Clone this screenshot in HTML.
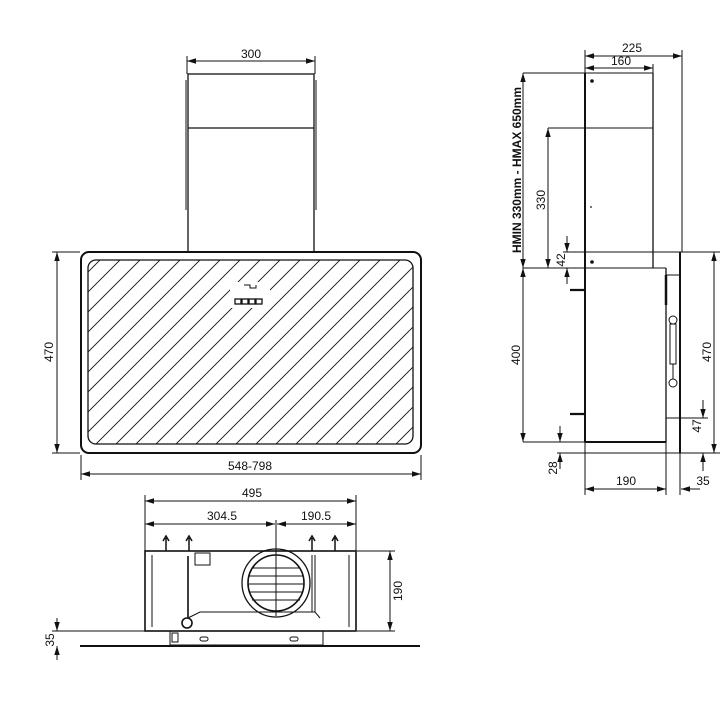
<!DOCTYPE html>
<html><head><meta charset="utf-8"><style>
html,body{margin:0;padding:0;background:#fff;}
svg{display:block;}
text{font-family:"Liberation Sans",sans-serif;font-size:12px;fill:#111;}
</style></head><body>
<svg width="720" height="720" viewBox="0 0 720 720" xmlns="http://www.w3.org/2000/svg">
<defs>
<marker id="a" viewBox="0 0 10 10" refX="10" refY="5" markerWidth="9" markerHeight="9" markerUnits="userSpaceOnUse" orient="auto-start-reverse"><path d="M0,2 L10,5 L0,8 z" fill="#111"/></marker>
<clipPath id="inner"><rect x="88" y="260" width="325" height="184" rx="8"/></clipPath>
</defs>
<g stroke="#111" fill="none" stroke-width="1">
<!-- FRONT VIEW -->
<line x1="187" y1="56" x2="187" y2="74"/><line x1="315" y1="56" x2="315" y2="74"/>
<line x1="187" y1="61" x2="315" y2="61" marker-start="url(#a)" marker-end="url(#a)"/>
<rect x="188" y="74" width="126" height="178" stroke-width="1.3"/>
<line x1="188" y1="128" x2="314" y2="128" stroke-width="1.3"/>
<line x1="186" y1="80" x2="186" y2="210"/><line x1="316" y1="80" x2="316" y2="210"/>
<rect x="81" y="252" width="340" height="201" rx="8" stroke-width="2"/>
<rect x="88" y="260" width="325" height="184" rx="8" stroke-width="1.3"/>
<g clip-path="url(#inner)" stroke-width="0.9">
<path d="M60,460 L280,240 M80,460 L300,240 M100,460 L320,240 M120,460 L340,240 M140,460 L360,240 M160,460 L380,240 M180,460 L400,240 M200,460 L420,240 M220,460 L440,240 M240,460 L460,240 M260,460 L480,240 M280,460 L500,240 M300,460 L520,240 M320,460 L540,240 M340,460 L560,240 M360,460 L580,240 M380,460 L600,240 M400,460 L620,240 M40,460 L260,240 M20,460 L240,240 M0,460 L220,240 M-20,460 L200,240 M-40,460 L180,240 M-60,460 L160,240 M-80,460 L140,240 M-100,460 L120,240 M-120,460 L100,240"/>
</g>
<rect x="230" y="282" width="40" height="26" fill="#fff" stroke="none"/>
<path d="M244,285 h6 v3 h6 v-3" />
<rect x="235" y="299" width="6" height="5" stroke-width="1.3"/><rect x="242" y="299" width="6" height="5" stroke-width="1.3"/><rect x="249" y="299" width="6" height="5" stroke-width="1.3"/><rect x="256" y="299" width="6" height="5" stroke-width="1.3"/>
<line x1="52" y1="252" x2="80" y2="252"/><line x1="52" y1="453" x2="80" y2="453"/>
<line x1="57" y1="252" x2="57" y2="453" marker-start="url(#a)" marker-end="url(#a)"/>
<line x1="81" y1="455" x2="81" y2="480"/><line x1="421" y1="455" x2="421" y2="480"/>
<line x1="81" y1="474" x2="421" y2="474" marker-start="url(#a)" marker-end="url(#a)"/>

<!-- BOTTOM VIEW -->
<line x1="145" y1="495" x2="145" y2="551"/><line x1="356" y1="495" x2="356" y2="551"/>
<line x1="145" y1="501" x2="356" y2="501" marker-start="url(#a)" marker-end="url(#a)"/>
<line x1="145" y1="524" x2="275" y2="524" marker-start="url(#a)" marker-end="url(#a)"/>
<line x1="277" y1="524" x2="356" y2="524" marker-start="url(#a)" marker-end="url(#a)"/>
<line x1="276" y1="520" x2="276" y2="616"/>
<rect x="145" y="551" width="211" height="80" stroke-width="1.6"/>
<line x1="152" y1="555" x2="152" y2="627"/><line x1="349" y1="555" x2="349" y2="627"/>
<line x1="188" y1="556" x2="188" y2="618" stroke-width="1.6"/>
<rect x="195" y="553" width="15" height="12"/>
<path d="M188,618 L200,612 H315 L320,618"/>
<line x1="312" y1="555" x2="312" y2="612"/><line x1="315" y1="555" x2="315" y2="612"/>
<circle cx="276" cy="583" r="34" stroke-width="1.3"/>
<circle cx="276" cy="583" r="28" stroke-width="1.6"/>
<path d="M252,568 H300 M249,576 H303 M248,584 H304 M249,592 H303 M252,600 H300"/>
<circle cx="187" cy="623" r="5" stroke-width="1.6"/>
<path d="M166,551 V538 M163,541 L166,536 L169,541 M189,551 V538 M186,541 L189,536 L192,541 M312,551 V538 M309,541 L312,536 L315,541 M335,551 V538 M332,541 L335,536 L338,541" stroke-width="1.5"/>
<rect x="170" y="631" width="153" height="14"/>
<rect x="172" y="633" width="6" height="9"/>
<rect x="200" y="637" width="8" height="4" rx="2"/><rect x="290" y="637" width="8" height="4" rx="2"/>
<line x1="80" y1="646" x2="420" y2="646" stroke-width="2"/>
<line x1="52" y1="631" x2="170" y2="631"/>
<line x1="57" y1="618" x2="57" y2="631" marker-end="url(#a)"/>
<line x1="57" y1="660" x2="57" y2="646" marker-end="url(#a)"/>
<line x1="357" y1="551" x2="395" y2="551"/><line x1="357" y1="631" x2="395" y2="631"/>
<line x1="390" y1="551" x2="390" y2="631" marker-start="url(#a)" marker-end="url(#a)"/>

<!-- SIDE VIEW -->
<line x1="585" y1="50" x2="585" y2="73"/><line x1="682" y1="50" x2="682" y2="252"/><line x1="653" y1="64" x2="653" y2="73"/>
<line x1="585" y1="56" x2="682" y2="56" marker-start="url(#a)" marker-end="url(#a)"/>
<line x1="585" y1="68" x2="653" y2="68" marker-start="url(#a)" marker-end="url(#a)"/>
<line x1="523" y1="73" x2="653" y2="73"/>
<line x1="585" y1="73" x2="585" y2="442" stroke-width="2"/>
<line x1="653" y1="73" x2="653" y2="268" stroke-width="1.3"/>
<line x1="548" y1="128" x2="653" y2="128"/>
<line x1="523" y1="268" x2="666" y2="268"/>
<line x1="563" y1="252" x2="720" y2="252"/>
<line x1="666" y1="268" x2="666" y2="442" stroke-width="1.3"/>
<line x1="680" y1="252" x2="680" y2="453" stroke-width="2"/>
<line x1="666" y1="275" x2="666" y2="305" stroke-width="2.5"/>
<line x1="666" y1="275" x2="680" y2="275"/>
<circle cx="673" cy="320" r="4"/><circle cx="673" cy="383" r="4"/>
<rect x="670" y="324" width="6" height="40"/>
<line x1="673" y1="364" x2="673" y2="379"/>
<line x1="585" y1="442" x2="666" y2="442" stroke-width="2"/>
<line x1="523" y1="442" x2="585" y2="442"/>
<line x1="666" y1="418" x2="708" y2="418"/>
<line x1="557" y1="453" x2="720" y2="453"/>
<line x1="585" y1="442" x2="585" y2="495"/><line x1="666" y1="442" x2="666" y2="495"/><line x1="680" y1="453" x2="680" y2="495"/>
<line x1="585" y1="489" x2="666" y2="489" marker-start="url(#a)" marker-end="url(#a)"/>
<line x1="700" y1="489" x2="681" y2="489" marker-end="url(#a)"/>
<line x1="523" y1="73" x2="523" y2="268" marker-start="url(#a)" marker-end="url(#a)"/>
<line x1="523" y1="268" x2="523" y2="442" marker-start="url(#a)" marker-end="url(#a)"/>
<line x1="548" y1="128" x2="548" y2="268" marker-start="url(#a)" marker-end="url(#a)"/>
<line x1="567" y1="236" x2="567" y2="252" marker-end="url(#a)"/>
<line x1="567" y1="284" x2="567" y2="268" marker-end="url(#a)"/>
<line x1="560" y1="426" x2="560" y2="442" marker-end="url(#a)"/>
<line x1="560" y1="469" x2="560" y2="453" marker-end="url(#a)"/>
<line x1="714" y1="252" x2="714" y2="453" marker-start="url(#a)" marker-end="url(#a)"/>
<line x1="703" y1="400" x2="703" y2="418" marker-end="url(#a)"/>
<line x1="703" y1="471" x2="703" y2="453" marker-end="url(#a)"/>
<path d="M570,290 H585 M570,414 H585" stroke-width="2.2"/>
</g>
<g fill="#111"><circle cx="592" cy="81" r="1.8"/><circle cx="592" cy="262" r="1.8"/><circle cx="591" cy="207" r="0.9"/></g>
<text x="251" y="58" text-anchor="middle">300</text>
<text x="250" y="470" text-anchor="middle">548-798</text>
<text transform="translate(53,352) rotate(-90)" text-anchor="middle">470</text>
<text x="252" y="497" text-anchor="middle">495</text>
<text x="222" y="520" text-anchor="middle">304.5</text>
<text x="316" y="520" text-anchor="middle">190.5</text>
<text transform="translate(54,640) rotate(-90)" text-anchor="middle" font-size="11">35</text>
<text transform="translate(402,591) rotate(-90)" text-anchor="middle" font-size="11">190</text>
<text x="632" y="52" text-anchor="middle">225</text>
<text x="621" y="65" text-anchor="middle" font-size="11">160</text>
<text transform="translate(521,170) rotate(-90)" text-anchor="middle" font-size="11" font-weight="bold">HMIN 330mm - HMAX 650mm</text>
<text transform="translate(545,200) rotate(-90)" text-anchor="middle">330</text>
<text transform="translate(565,260) rotate(-90)" text-anchor="middle" font-size="11">42</text>
<text transform="translate(520,355) rotate(-90)" text-anchor="middle">400</text>
<text transform="translate(711,352) rotate(-90)" text-anchor="middle">470</text>
<text transform="translate(701,426) rotate(-90)" text-anchor="middle" font-size="11">47</text>
<text transform="translate(557,468) rotate(-90)" text-anchor="middle" font-size="11">28</text>
<text x="626" y="485" text-anchor="middle">190</text>
<text x="703" y="485" text-anchor="middle">35</text>
</svg>
</body></html>
